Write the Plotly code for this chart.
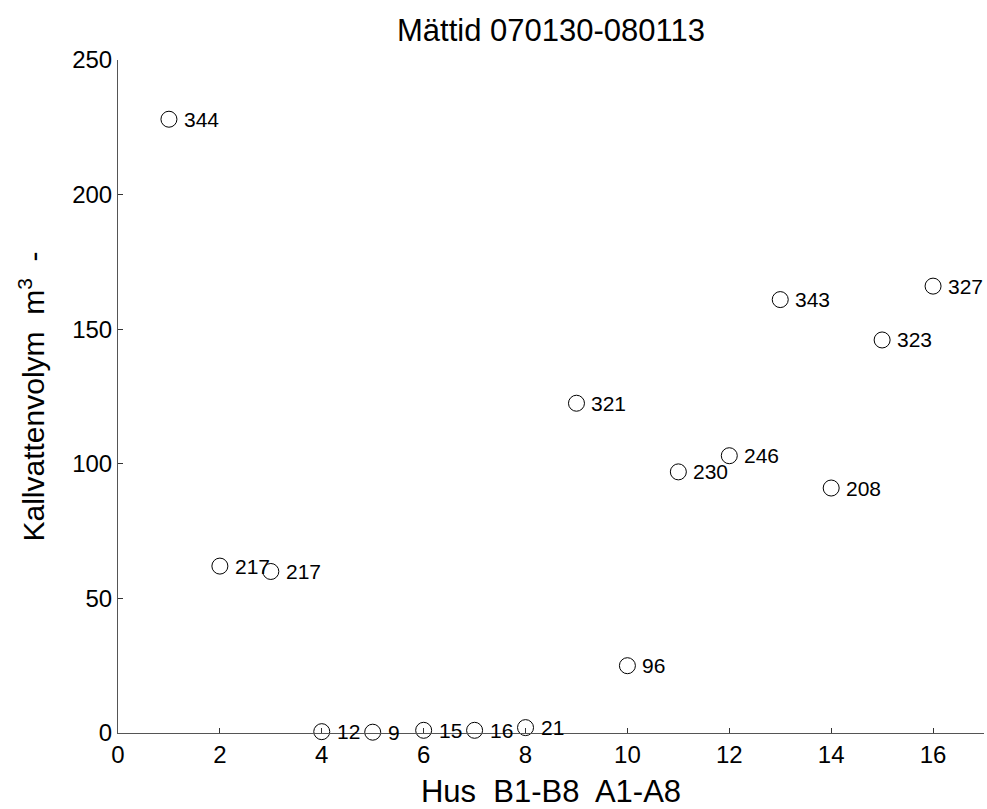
import plotly.graph_objects as go

hus = [1, 2, 3, 4, 5, 6, 7, 8, 9, 10, 11, 12, 13, 14, 15, 16]
volym = [228, 62, 60, 0.5, 0.3, 1, 1, 2, 122.5, 25, 97, 103, 161, 91, 146, 166]
etiketter = ["344", "217", "217", "12", "9", "15", "16", "21", "321", "96",
             "230", "246", "343", "208", "323", "327"]
x_ticks = [0, 2, 4, 6, 8, 10, 12, 14, 16]
y_ticks = [0, 50, 100, 150, 200, 250]

font = "Liberation Sans, Arial, sans-serif"
W, H = 987, 809

fig = go.Figure()
fig.add_trace(go.Scatter(
    x=hus, y=volym, mode="markers",
    marker=dict(symbol="circle-open", size=16, color="black", line=dict(width=1, color="black")),
    cliponaxis=False, showlegend=False, hoverinfo="skip",
))
for xv, yv, t in zip(hus, volym, etiketter):
    fig.add_annotation(x=xv, y=yv, text=t, showarrow=False, xanchor="left", yanchor="middle",
                       xshift=13, font=dict(family=font, size=21, color="black"))

fig.update_layout(
    width=W, height=H,
    margin=dict(l=118, r=3, t=60, b=76),
    paper_bgcolor="white", plot_bgcolor="white",
    title=dict(text="Mättid 070130-080113", x=(118 + 433) / W, xanchor="center",
               y=1 - 30 / H, yanchor="middle",
               font=dict(family=font, size=31, color="black")),
    font=dict(family=font, color="black"),
)
fig.update_xaxes(
    range=[0, 17], tickvals=x_ticks, ticks="inside", ticklen=5, tickcolor="#333",
    showline=True, linecolor="#555", linewidth=1, showgrid=False, zeroline=False,
    automargin=False,
    tickfont=dict(family=font, size=24, color="black"),
    title=dict(text="Hus  B1-B8  A1-A8", font=dict(family=font, size=31, color="black"), standoff=13),
)
fig.update_yaxes(
    range=[0, 250], tickvals=y_ticks, ticks="inside", ticklen=5, tickcolor="#333",
    showline=True, linecolor="#555", linewidth=1, showgrid=False, zeroline=False,
    automargin=False,
    tickfont=dict(family=font, size=24, color="black"),
    title=dict(text="Kallvattenvolym  m<sup>3</sup>  -", font=dict(family=font, size=30, color="black"), standoff=18),
)
fig.write_html("out.html", config={"displayModeBar": False},
               post_script="document.body.style.margin='0';document.body.style.overflow='hidden';")
